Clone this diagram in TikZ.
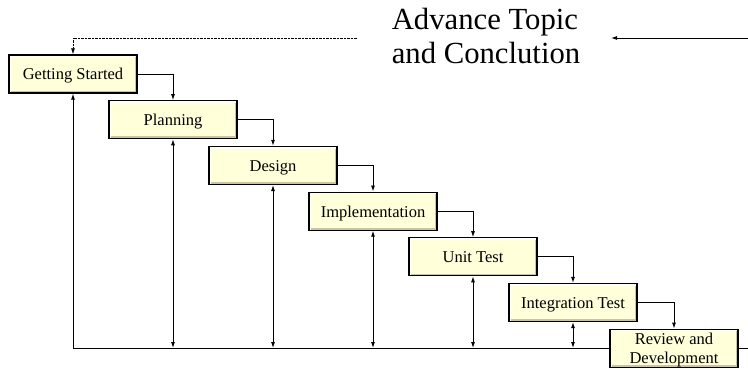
\documentclass[tikz,border=0pt]{standalone}
\usepackage{fontspec}
\setmainfont{Liberation Serif}
\usetikzlibrary{arrows.meta}

\newcommand*\stagewidth{128pt}
\newcommand*\stageheight{38pt}
\definecolor{stagefill}{HTML}{FFFFDA}
\definecolor{stageshade}{HTML}{CBC49C}
\tikzset{stage/.style={
    draw,
    line width=1.2pt,
    rectangle,
    fill=stagefill,
    minimum width=\stagewidth,
    minimum height=\stageheight,
    inner sep=0pt,
    text height=12pt,
    text depth=0pt,
    align=center,
    font=\fontsize{16.5}{18.5}\selectfont,
    path picture={
        \draw[stageshade, line width=4.4pt]
            (path picture bounding box.south west) -- (path picture bounding box.south east)
            -- (path picture bounding box.north east);
        \draw[white, line width=4.4pt]
            (path picture bounding box.south west) -- (path picture bounding box.north west)
            -- (path picture bounding box.north east);
    }
}}
\tikzset{flow/.style={line width=0.9pt, -{Latex[length=6pt,width=4pt]}}}
\tikzset{both/.style={line width=0.9pt, {Latex[length=6pt,width=4pt]}-{Latex[length=6pt,width=4pt]}}}

\begin{document}
\begin{tikzpicture}[x=1pt,y=-1pt]
    \useasboundingbox (0,0) rectangle (748,369);

    % The common line that every stage reports back to.
    \coordinate (baseL) at (73,348);
    \coordinate (baseR) at (748,348);
    \draw[line width=0.9pt] (baseL) -- (baseR);

    % The stages, one step right and down each time.
    \node[stage] (start) at (73,74) {Getting Started};
    \node[stage] (plan) at (173,119.7) {Planning};
    \node[stage] (design) at (273,165.4) {Design};
    \node[stage] (impl) at (373,211.1) {Implementation};
    \node[stage] (unit) at (473,256.8) {Unit Test};
    \node[stage] (integ) at (573,302.5) {Integration Test};
    \node[stage, text height=30.5pt] (review) at (674,348.2) {Review and\\Development};

    % Hand over from one stage to the next.
    \draw[flow] (start.east) -| (plan.north);
    \draw[flow] (plan.east) -| (design.north);
    \draw[flow] (design.east) -| (impl.north);
    \draw[flow] (impl.east) -| (unit.north);
    \draw[flow] (unit.east) -| (integ.north);
    \draw[flow] (integ.east) -| (review.north);

    % Feedback between each stage and the base line.
    \draw[flow] (start.south |- baseL) -- (start.south);
    \draw[both] (plan.south) -- (plan.south |- baseL);
    \draw[both] (design.south) -- (design.south |- baseL);
    \draw[both] (impl.south) -- (impl.south |- baseL);
    \draw[both] (unit.south) -- (unit.south |- baseL);
    \draw[both] (integ.south) -- (integ.south |- baseL);

    % Way back to the start.
    \coordinate (loopend) at (357,38);
    \draw[flow, line width=0.8pt, dash pattern=on 0.7pt off 0.7pt] (loopend) -| (start.north);

    % Title and its arrow.
    \node[font=\fontsize{30.7}{35}\selectfont, align=left, inner sep=0pt] (topic) at (486,36) {Advance Topic\\and Conclution};
    \coordinate (topicfeed) at (748,38);
    \coordinate (topictip) at (611,38);
    \draw[flow] (topicfeed) -- (topictip);

\end{tikzpicture}
\end{document}
